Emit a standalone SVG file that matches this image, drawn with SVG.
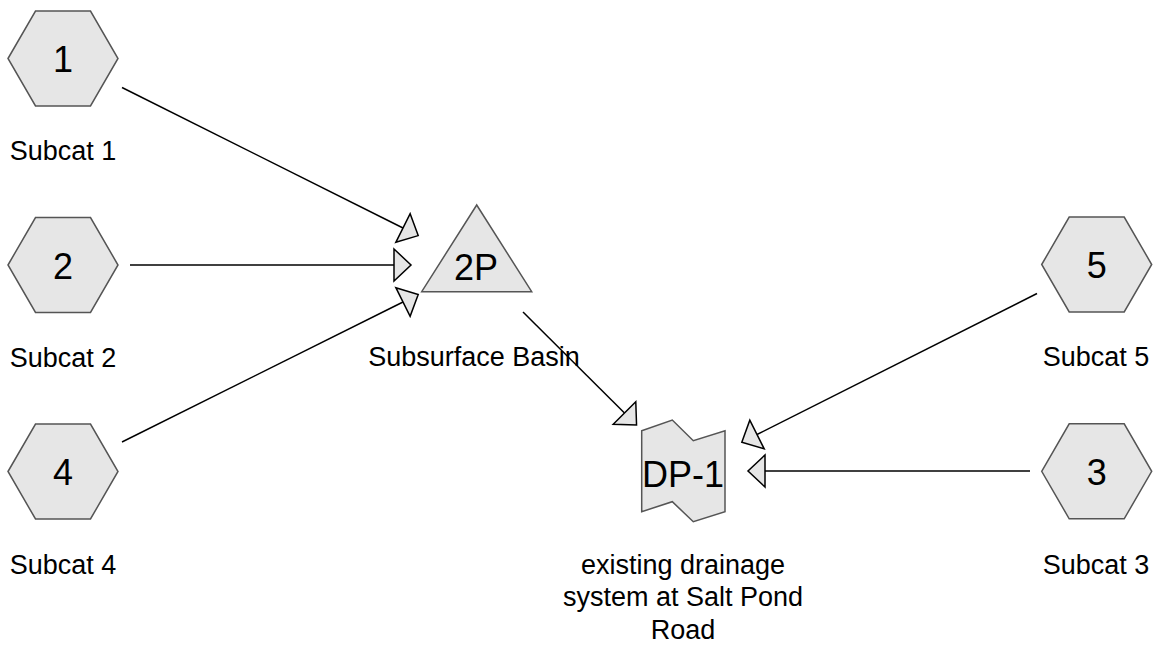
<svg xmlns="http://www.w3.org/2000/svg" width="1156" height="646" viewBox="0 0 1156 646">
  <style>
    .shape { fill: #e6e6e6; stroke: #555555; stroke-width: 1.5; }
    .num { font-family: "Liberation Sans", Arial, sans-serif; font-size: 36px; fill: #000; text-anchor: middle; }
    .lbl { font-family: "Liberation Sans", Arial, sans-serif; font-size: 27px; fill: #000; text-anchor: middle; }
    .conn { stroke: #000; stroke-width: 1.5; fill: none; marker-end: url(#arrow); }
  </style>
  <defs>
    <polygon id="hex" points="-55,0 -27.5,-47.5 27.5,-47.5 55,0 27.5,47.5 -27.5,47.5"/>
    <marker id="arrow" markerUnits="userSpaceOnUse" viewBox="-2 -2 21 36" refX="0" refY="16" markerWidth="21" markerHeight="36" orient="auto">
      <polygon points="0,0 17,16 0,32" fill="#e6e6e6" stroke="#000" stroke-width="1.5" stroke-linejoin="miter"/>
    </marker>
  </defs>
  <rect width="1156" height="646" fill="#ffffff"/>

  <g id="connectors">
    <line class="conn" x1="122" y1="87.5" x2="403" y2="228"/>
    <line class="conn" x1="130" y1="265" x2="394" y2="265"/>
    <line class="conn" x1="122" y1="442" x2="403" y2="302"/>
    <line class="conn" x1="523" y1="312" x2="624.5" y2="413"/>
    <line class="conn" x1="1037" y1="293.5" x2="757" y2="434.5"/>
    <line class="conn" x1="1030" y1="471" x2="765" y2="471"/>
  </g>

  <g id="node-1">
    <use href="#hex" class="shape" x="63" y="58.5"/>
    <text class="num" x="63" y="72">1</text>
    <text class="lbl" x="63" y="159.5">Subcat 1</text>
  </g>
  <g id="node-2">
    <use href="#hex" class="shape" x="63" y="265"/>
    <text class="num" x="63" y="278.5">2</text>
    <text class="lbl" x="63" y="366.5">Subcat 2</text>
  </g>
  <g id="node-4">
    <use href="#hex" class="shape" x="63" y="471.5"/>
    <text class="num" x="63" y="485">4</text>
    <text class="lbl" x="63" y="573.5">Subcat 4</text>
  </g>
  <g id="node-5">
    <use href="#hex" class="shape" x="1096.7" y="264.5"/>
    <text class="num" x="1096.7" y="278">5</text>
    <text class="lbl" x="1096" y="366">Subcat 5</text>
  </g>
  <g id="node-3">
    <use href="#hex" class="shape" x="1096.7" y="471.3"/>
    <text class="num" x="1096.7" y="485">3</text>
    <text class="lbl" x="1096" y="573.5">Subcat 3</text>
  </g>
  <g id="node-2P">
    <polygon class="shape" points="476.7,205 421.7,291.7 531.7,291.7"/>
    <text class="num" x="476" y="280">2P</text>
    <text class="lbl" x="474" y="365.5">Subsurface Basin</text>
  </g>
  <g id="node-DP-1">
    <polygon class="shape" points="641.7,430.7 672.3,420 693.3,440.7 725,430.7 725,511.7 693.3,521.7 672.3,501.7 641.7,511.7"/>
    <text class="num" x="683" y="487">DP-1</text>
    <text class="lbl" x="683" y="573.5">existing drainage</text>
    <text class="lbl" x="683" y="606">system at Salt Pond</text>
    <text class="lbl" x="683" y="638.5">Road</text>
  </g>
</svg>
